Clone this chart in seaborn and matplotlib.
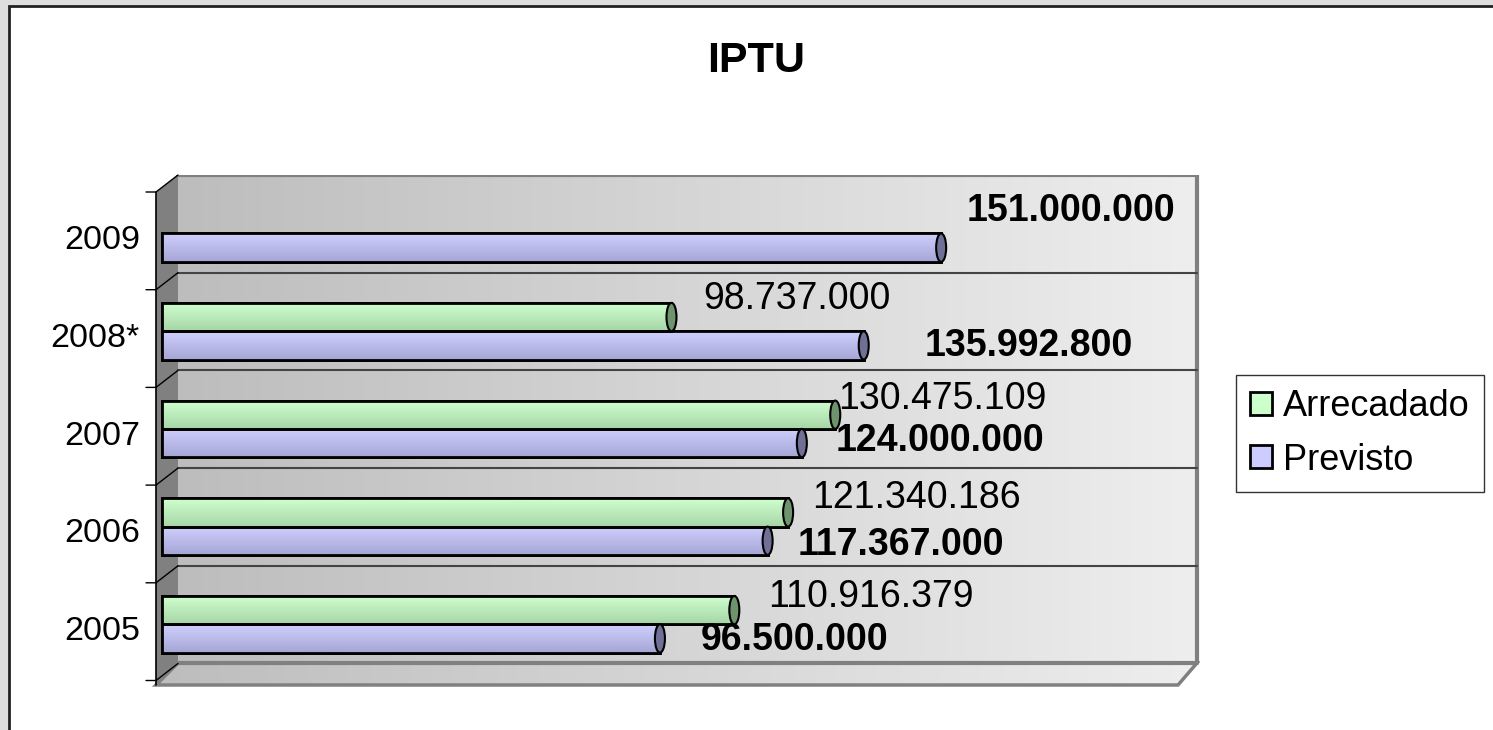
import numpy as np
import pandas as pd
import matplotlib
matplotlib.use('Agg')
import matplotlib.pyplot as plt
import seaborn as sns
from matplotlib.patches import Polygon, Rectangle, Ellipse, Patch
from matplotlib.colors import LinearSegmentedColormap

# data
years = ['2005', '2006', '2007', '2008*', '2009']
arrecadado = [110916379, 121340186, 130475109, 98737000, np.nan]
previsto = [96500000, 117367000, 124000000, 135992800, 151000000]
series = ['Arrecadado', 'Previsto']

df = pd.DataFrame({
    'ano': years * 2,
    'serie': ['Arrecadado'] * 5 + ['Previsto'] * 5,
    'valor': arrecadado + previsto,
})

def fmt(v):
    return f'{v:,.0f}'.replace(',', '.')

sns.set_style('white')
plt.rcParams['font.family'] = ['Liberation Sans', 'DejaVu Sans']
plt.rcParams['text.color'] = 'black'

W, H = 1493, 730
fig = plt.figure(figsize=(W / 100, H / 100), dpi=100, facecolor='#dedede')

def fpx(x, y):
    return (x / W, 1 - y / H)

# white chart area with frame (right and bottom edges run off the picture)
fig.add_artist(Rectangle(fpx(9, 745), 1.1, (745 - 6) / H, transform=fig.transFigure,
                         facecolor='white', edgecolor='#222222', lw=2, zorder=-5))

# axes: px 150..1200 x, 175..690 y
ax = fig.add_axes([150 / W, 1 - 690 / H, (1200 - 150) / W, (690 - 175) / H])
ax.patch.set_visible(False)
scale = 5.16e-6  # px per unit
x0px, y0px, rowpx = 162, 233.5, 97.7

def X(px):
    return (px - x0px) / scale

def Y(py):
    return (py - y0px) / rowpx

green, blue = '#c2f2c2', '#c0c0f0'
sns.barplot(data=df, x='valor', y='ano', hue='serie', order=years[::-1],
            hue_order=series, palette=[green, blue], width=0.58,
            edgecolor='black', linewidth=2, legend=False, ax=ax, zorder=3)
bars = [b for b in ax.patches if isinstance(b, Rectangle)]

ax.set_xlim(X(150), X(1200))
ax.set_ylim(Y(690), Y(175))
ax.set_axis_off()

# back wall gradient
wall = LinearSegmentedColormap.from_list('wall', ['#bdbdbd', '#eeeeee'])
grad = np.linspace(0, 1, 256).reshape(1, -1)
ax.imshow(grad, extent=[X(178), X(1197), Y(663), Y(175)], aspect='auto',
          cmap=wall, zorder=0)
# floor
floor = Polygon([(X(156), Y(685)), (X(178), Y(663)), (X(1197), Y(663)), (X(1178), Y(685))],
                closed=True, facecolor='none', edgecolor='#808080', lw=2.5, zorder=1)
im = ax.imshow(grad, extent=[X(156), X(1197), Y(685), Y(663)], aspect='auto',
               cmap=wall, zorder=0.5)
ax.add_patch(floor)
im.set_clip_path(floor)
# side wall
ax.add_patch(Polygon([(X(156), Y(192)), (X(178), Y(175)), (X(178), Y(663)), (X(156), Y(685))],
                     closed=True, facecolor='#808080', edgecolor='none', zorder=1, clip_on=False))
# wall outline
ax.plot([X(178), X(1197), X(1197)], [Y(175), Y(175), Y(663)], color='#808080', lw=3, zorder=1)
ax.plot([X(178), X(1197)], [Y(663), Y(663)], color='#808080', lw=3, zorder=1)

# gridlines at row boundaries
for k in range(1, 5):
    yb = Y(175) + k
    ax.plot([X(178), X(1197)], [yb, yb], color='#444444', lw=1.5, zorder=1)
drop = Y(192) - Y(175)
for k in range(0, 6):
    yb = Y(175) + k
    ax.plot([X(146), X(156), X(178)], [yb + drop, yb + drop, yb],
            color='black', lw=1, zorder=2, clip_on=False)
# left axis line
ax.plot([X(156), X(156)], [Y(192), Y(685)], color='black', lw=1.2, zorder=2, clip_on=False)

# cylinder shading and end caps
shade = {'a': ('#d0ffd0', '#a6d6a6', '#6e946e'), 'p': ('#d0d0ff', '#a6a6d6', '#707096')}
for bar in bars:
    w = bar.get_width()
    if not np.isfinite(w) or w <= 0:
        continue
    yb, hb = bar.get_y(), bar.get_height()
    yc = yb + hb / 2
    key = 'a' if yc < round(yc) else 'p'
    c_top, c_bot, c_cap = shade[key]
    cm = LinearSegmentedColormap.from_list('c', [c_top, c_bot])
    g = ax.imshow(np.linspace(0, 1, 64).reshape(-1, 1), extent=[0, w, yb + hb, yb],
                  aspect='auto', cmap=cm, zorder=3.5)
    g.set_clip_path(bar)
    ax.add_patch(Rectangle((0, yb), w, hb, facecolor='none', edgecolor='black', lw=2, zorder=3.6))
    ax.add_patch(Ellipse((w, yc), X(172) - X(162), hb, facecolor=c_cap,
                         edgecolor='black', lw=1.5, zorder=3.7))

# value labels (offsets in pixels from bar end)
arr_dx = [137, 128, 107, 125]
arr_dy = [-13, -14, -16, -18]
pre_dx = [135, 133, 138, 165, 130]
pre_dy = [2, 4, -2, 1, -37]
rows = years[::-1]
for i, yr in enumerate(years):
    yc = rows.index(yr)
    if i < 4:
        ax.annotate(fmt(arrecadado[i]), (arrecadado[i], yc - 0.145), xytext=(arr_dx[i], -arr_dy[i]),
                    textcoords='offset pixels', ha='center', va='center', fontsize=27, zorder=5)
    ax.annotate(fmt(previsto[i]), (previsto[i], yc + 0.145), xytext=(pre_dx[i], -pre_dy[i]),
                textcoords='offset pixels', ha='center', va='center', fontsize=27,
                fontweight='bold', zorder=5)

# category labels
for i, yr in enumerate(rows):
    ax.text(X(140), i + Y(240.8), yr, ha='right', va='center', fontsize=24.5, clip_on=False)

fig.text(756 / W, 1 - 61 / H, 'IPTU', ha='center', va='center', fontsize=31, fontweight='bold')

handles = [Patch(facecolor='#ccffcc', edgecolor='black', lw=2),
           Patch(facecolor='#ccccff', edgecolor='black', lw=2)]
leg = fig.legend(handles, series, loc='upper left', bbox_to_anchor=fpx(1236, 375),
                 fontsize=26, frameon=True, fancybox=False, edgecolor='black',
                 handlelength=0.6, handleheight=0.6, handletextpad=0.3,
                 borderpad=0.4, labelspacing=0.5, borderaxespad=0)
leg.get_frame().set_linewidth(1)

fig.savefig('out.png', dpi=100, facecolor=fig.get_facecolor())
